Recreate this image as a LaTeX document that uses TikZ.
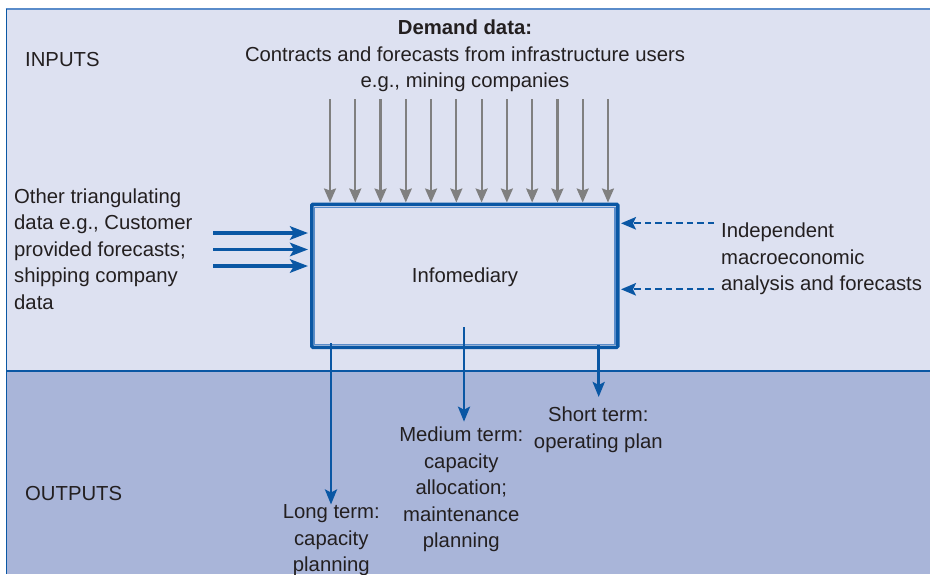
\documentclass[tikz,border=0pt]{standalone}
\usepackage{fontspec}
\setmainfont{Liberation Sans}
\usetikzlibrary{arrows.meta,calc}
\definecolor{inbg}{HTML}{DDE1F1}
\definecolor{outbg}{HTML}{A9B5D9}
\definecolor{bblue}{HTML}{0A57A4}
\definecolor{lblue}{HTML}{5A8CCA}
\definecolor{agray}{HTML}{808080}
\definecolor{txt}{HTML}{231F20}
\tikzset{
  infobox/.style={draw=bblue, line width=3.5pt, rectangle, rounded corners=1pt,
    minimum width=306pt, minimum height=143pt},
  grayarrow/.style={draw=agray, line width=2.2pt, -{Stealth[length=14pt,width=12pt,inset=2pt]}},
  bluearrow/.style={draw=bblue, line width=3.2pt, -{Stealth[length=18pt,width=13.5pt,inset=4pt]}, shorten >=2pt},
  dasharrow/.style={draw=bblue, line width=2.2pt, dash pattern=on 6.5pt off 4pt, -{Stealth[length=15pt,width=12.5pt,inset=3pt]}, shorten >=1.5pt},
  outarrow/.style={draw=bblue, line width=2.8pt, -{Stealth[length=15pt,width=12pt,inset=3pt]}},
  lbl/.style={text=txt, inner sep=0pt},
}
\begin{document}
\begin{tikzpicture}[x=1pt,y=-1pt, font=\fontsize{20.3}{26.5}\selectfont]
\useasboundingbox (0,0) rectangle (930,574);
\clip (0,0) rectangle (930,574);
\fill[white] (0,0) rectangle (930,574);
\fill[inbg] (6,8.5) rectangle (930,371);
\fill[outbg] (6,371) rectangle (930,574);
\draw[lblue, line width=2pt] (5.5,8.7) -- (930,8.7);
\draw[bblue, line width=1pt] (6,8.5) -- (6,574);
\draw[bblue, line width=1.6pt] (6,371) -- (930,371);

% texts
\node[lbl, anchor=north west] (inp) at (25,51.7) {INPUTS};
\node[lbl, anchor=north west] (outp) at (25,485.7) {OUTPUTS};
\node[lbl, anchor=north, align=center] (dem) at (465,20) {\textbf{Demand data:}\\Contracts and forecasts from infrastructure users\\e.g., mining companies};
\node[lbl, anchor=north west, align=left] (ltxt) at (14,188.5) {Other triangulating\\data e.g., Customer\\provided forecasts;\\shipping company\\data};
\node[lbl, anchor=north west, align=left] (rtxt) at (721,223) {Independent\\macroeconomic\\analysis and forecasts};

% main box
\node[infobox] (info) at (464.75,275.75) {};
\draw[lblue, line width=1.2pt] ($(info.north west)+(4.6,4.6)$) rectangle ($(info.south east)+(-4.6,-4.6)$);
\node[lbl] (infolbl) at (465,277.5) {Infomediary};

% gray demand arrows
\foreach \i in {0,...,11}{
  \pgfmathsetmacro\xx{330+25.27*\i}
  \coordinate (g\i) at (\xx,99);
  \draw[grayarrow] (g\i) -- (g\i |- info.north);
}

% left arrows
\foreach \y [count=\k] in {233,249.5,266}{
  \coordinate (l\k) at (213,\y);
  \draw[bluearrow] (l\k) -- (l\k -| info.west);
}

% right dashed arrows
\foreach \y [count=\k] in {223.3,289.3}{
  \coordinate (r\k) at (714,\y);
  \draw[dasharrow] (r\k) -- (r\k -| info.east);
}

% outputs
\node[lbl, anchor=north, align=center] (lt) at (331.3,504.5) {Long term:\\capacity\\planning};
\node[lbl, anchor=north, align=center] (mt) at (461.3,426.7) {Medium term:\\capacity\\allocation;\\maintenance\\planning};
\node[lbl, anchor=north, align=center] (st) at (598.3,407) {Short term:\\operating plan};

\coordinate (o1) at (331,343);
\coordinate (o2) at (464,327);
\coordinate (o3) at (598.7,345);
\draw[outarrow] (o1) -- (o1 |- lt.north);
\draw[outarrow, shorten >=5pt] (o2) -- (o2 |- mt.north);
\draw[outarrow, shorten >=10pt] (o3) -- (o3 |- st.north);
\end{tikzpicture}
\end{document}
